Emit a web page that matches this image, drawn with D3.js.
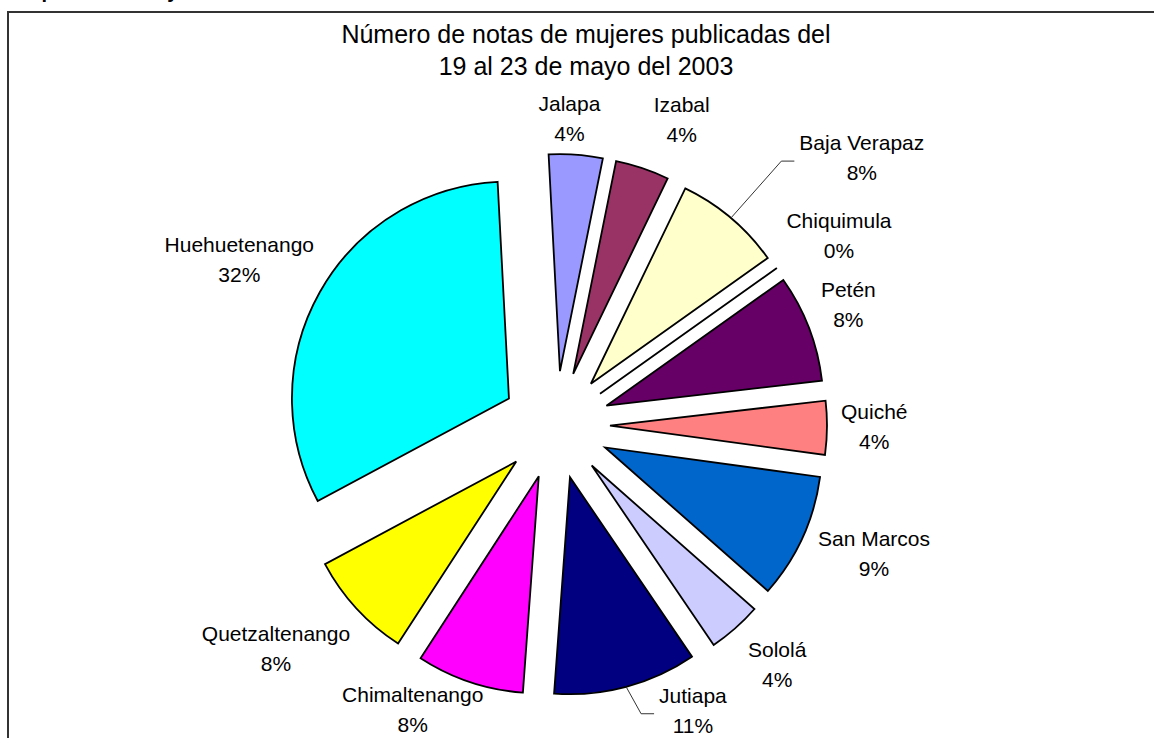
<!DOCTYPE html>
<html>
<head>
<meta charset="utf-8">
<script src="https://cdn.jsdelivr.net/npm/d3@7"></script>
<style>
  body { margin: 0; background: #fff; }
  text { font-family: "Liberation Sans", Arial, sans-serif; fill: #000; }
</style>
</head>
<body>
<svg id="chart" width="1154" height="738"></svg>
<script>
// data (counts of notes, labels show share of total)
const departments = ['Jalapa', 'Izabal', 'Baja Verapaz', 'Chiquimula', 'Petén', 'Quiché',
  'San Marcos', 'Sololá', 'Jutiapa', 'Chimaltenango', 'Quetzaltenango', 'Huehuetenango'];
const notes = [3, 3, 6, 0, 6, 3, 7, 3, 8, 6, 6, 24];
const titleLines = ['Número de notas de mujeres publicadas del', '19 al 23 de mayo del 2003'];

// excel 97 default palette, in series order
const sliceColors = ['#9999FF', '#993366', '#FFFFCC', '#CCFFFF', '#660066', '#FF8080',
  '#0066CC', '#CCCCFF', '#000080', '#FF00FF', '#FFFF00', '#00FFFF'];

// labels were dragged around by hand in the original, so nudge them
const labelNudge = [[-9, -6], [29, -20], [88, -37], [16, -15], [10, -12], [10, -2],
  [17, 3], [20, 14], [57, -5], [-33, -1], [-23, 20], [-12, -18]];
const withLeader = ['Baja Verapaz', 'Jutiapa'];

const W = 1154, H = 738;
const svg = d3.select('#chart');
svg.append('rect').attr('width', W).attr('height', H).attr('fill', '#fff');

// heading of the page, mostly cut off at the top
svg.append('text')
  .attr('x', 16).attr('y', -2)
  .style('font-weight', 'bold').style('font-size', '20px')
  .text('Departamentos y');

// chart area frame (runs off the right and bottom)
svg.append('rect')
  .attr('x', 8).attr('y', 12)
  .attr('width', W + 20).attr('height', H + 20)
  .attr('fill', 'none').attr('stroke', '#333').attr('stroke-width', 2);

titleLines.forEach((t, i) => {
  svg.append('text')
    .attr('x', 586).attr('y', 43 + i * 32)
    .attr('text-anchor', 'middle')
    .style('font-size', '25px')
    .text(t);
});

// pie
const cx = 556, cy = 425, R = 217, explode = 54;
const rot = -3 * Math.PI / 180;
const pie = d3.pie().sort(null).startAngle(rot).endAngle(rot + 2 * Math.PI);
const arcs = pie(notes);
const arc = d3.arc().innerRadius(0).outerRadius(R);
const total = d3.sum(notes);
const pct = d3.format('.0%');
const dir = a => [Math.sin(a), -Math.cos(a)];

const g = svg.append('g').attr('transform', `translate(${cx},${cy})`);
g.selectAll('path.slice')
  .data(arcs)
  .join('path')
    .attr('class', 'slice')
    .attr('d', arc)
    .attr('transform', d => {
      const [ux, uy] = dir((d.startAngle + d.endAngle) / 2);
      return `translate(${ux * explode},${uy * explode})`;
    })
    .attr('fill', (d, i) => sliceColors[i])
    .attr('stroke', '#000')
    .attr('stroke-width', 1.8)
    .attr('stroke-linejoin', 'miter');

// data labels
const labels = svg.append('g');
arcs.forEach((d, i) => {
  const m = (d.startAngle + d.endAngle) / 2;
  const [ux, uy] = dir(m);
  const ax = cx + (explode + R + 4) * ux;
  const ay = cy + (explode + R + 4) * uy;

  const lg = labels.append('g');
  const t1 = lg.append('text').attr('text-anchor', 'middle').style('font-size', '21px')
    .text(departments[i]);
  const t2 = lg.append('text').attr('text-anchor', 'middle').style('font-size', '21px')
    .text(pct(notes[i] / total));
  const w = Math.max(t1.node().getComputedTextLength(), t2.node().getComputedTextLength());

  const bx = ax + ux * w / 2 + labelNudge[i][0];
  const by = ay + uy * 26 + labelNudge[i][1];
  t1.attr('x', bx).attr('y', by - 15).attr('dy', '0.35em');
  t2.attr('x', bx).attr('y', by + 15).attr('dy', '0.35em');

  if (withLeader.includes(departments[i])) {
    const sx = cx + (explode + R) * ux, sy = cy + (explode + R) * uy;
    const left = bx - w / 2;
    lg.append('polyline')
      .attr('points', [[sx, sy], [left - 18, by + 3], [left - 5, by + 3]].join(' '))
      .attr('fill', 'none').attr('stroke', '#333').attr('stroke-width', 1);
  }
});
</script>
</body>
</html>
